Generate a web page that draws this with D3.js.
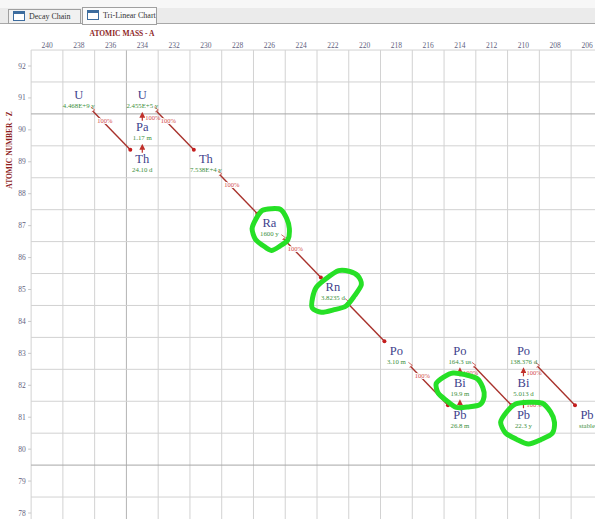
<!DOCTYPE html>
<html>
<head>
<meta charset="utf-8">
<script src="https://cdn.jsdelivr.net/npm/d3@7"></script>
<style>
  html, body { margin: 0; padding: 0; background: #fff; }
  svg { display: block; }
</style>
</head>
<body>
<svg id="chart" width="595" height="519"></svg>
<script>
// Tick labels
const massTicks = [240, 238, 236, 234, 232, 230, 228, 226, 224, 222, 220, 218, 216, 214, 212, 210, 208, 206];
const zTicks = [92, 91, 90, 89, 88, 87, 86, 85, 84, 83, 82, 81, 80, 79, 78];

// Nuclides of the U-238 chain, in decay order
const symbols = ['U', 'Th', 'Pa', 'U', 'Th', 'Ra', 'Rn', 'Po', 'Pb', 'Bi', 'Po', 'Pb', 'Bi', 'Po', 'Pb'];
const masses = [238, 234, 234, 234, 230, 226, 222, 218, 214, 214, 214, 210, 210, 210, 206];
const atomicNumbers = [92, 90, 91, 92, 90, 88, 86, 84, 82, 83, 84, 82, 83, 84, 82];
const halfLives = ['4.468E+9 y', '24.10 d', '1.17 m', '2.455E+5 y', '7.538E+4 y', '1600 y', '3.8235 d',
  '3.10 m', '26.8 m', '19.9 m', '164.3 us', '22.3 y', '5.013 d', '138.376 d', 'stable'];

// Each nuclide decays into the next one; branching ratio shown on some arrows
const branchLabels = ['100%', '', '100%', '100%', '100%', '100%', '', '100%', '', '100%', '', '100%', '100%', ''];

// Nuclides circled by hand in green
const circled = ['Ra-226', 'Rn-222', 'Bi-214', 'Pb-210'];

const width = 595, height = 519;
const svg = d3.select('#chart');

const x = d3.scaleLinear().domain([240, 206]).range([47, 587]);
const y = d3.scaleLinear().domain([92, 78]).range([66, 513]);
const cellW = x(238) - x(240);
const cellH = y(91) - y(92);
// the chart puts every nuclide one row below its Z label
const rowY = z => y(z - 1);

const serif = '"Liberation Serif", "Times New Roman", serif';

// ---- tab strip
svg.append('rect').attr('width', width).attr('height', 8).attr('fill', '#f7f7f7');
svg.append('rect').attr('y', 8).attr('width', width).attr('height', 15).attr('fill', '#ebebeb');
svg.append('line').attr('x1', 0).attr('x2', width).attr('y1', 23.5).attr('y2', 23.5).attr('stroke', '#a8a8a8');

const tabs = [{label: 'Decay Chain', x: 8, w: 72, active: false}, {label: 'Tri-Linear Chart', x: 82, w: 74, active: true}];
const tab = svg.selectAll('.tab').data(tabs).enter().append('g')
  .attr('transform', d => `translate(${d.x},${d.active ? 7 : 9})`);
tab.append('rect')
  .attr('x', 0.5).attr('y', 0.5)
  .attr('width', d => d.w).attr('height', d => d.active ? 17 : 14)
  .attr('fill', d => d.active ? '#fbfbfb' : '#f1f1f1')
  .attr('stroke', '#a0a0a0');
tab.append('rect').attr('x', 5.5).attr('y', d => d.active ? 3.5 : 2.5).attr('width', 11).attr('height', 9)
  .attr('fill', '#fff').attr('stroke', '#3d6c9e');
tab.append('rect').attr('x', 5.5).attr('y', d => d.active ? 3.5 : 2.5).attr('width', 11).attr('height', 2.5)
  .attr('fill', '#3d6c9e');
tab.append('text')
  .attr('x', 21).attr('y', d => d.active ? 11 : 10)
  .attr('font-family', serif).attr('font-size', 8).attr('fill', '#333')
  .text(d => d.label);

// ---- grid
const gridLeft = x(240) - cellW / 2;
const gridTop = y(92) - cellH / 2;
const grid = svg.append('g');

const vLines = massTicks.map(m => m + 1).concat([205]);
grid.selectAll('.v').data(vLines).enter().append('line')
  .attr('x1', d => x(d)).attr('x2', d => x(d))
  .attr('y1', gridTop).attr('y2', height)
  .attr('stroke', d => d === 235 ? '#b4b4b4' : '#d2d2d2')
  .attr('stroke-width', 1);

const hLines = zTicks.map(z => z + 0.5).concat([77.5]);
grid.selectAll('.h').data(hLines).enter().append('line')
  .attr('x1', gridLeft).attr('x2', width)
  .attr('y1', d => y(d)).attr('y2', d => y(d))
  .attr('stroke', d => (d === 90.5 || d === 79.5) ? '#a6a6a6' : '#d2d2d2')
  .attr('stroke-width', 1);

// small ticks on the left edge
grid.selectAll('.tk').data(zTicks).enter().append('line')
  .attr('x1', gridLeft - 3).attr('x2', gridLeft)
  .attr('y1', d => y(d)).attr('y2', d => y(d))
  .attr('stroke', '#c8c8c8');

// ---- axis labels
svg.append('text')
  .attr('x', 122).attr('y', 36)
  .attr('text-anchor', 'middle')
  .attr('font-family', serif).attr('font-weight', 'bold').attr('font-size', 7.5)
  .attr('fill', '#8e1f1f')
  .text('ATOMIC MASS - A');

svg.append('text')
  .attr('transform', 'translate(12,150) rotate(-90)')
  .attr('text-anchor', 'middle')
  .attr('font-family', serif).attr('font-weight', 'bold').attr('font-size', 7.5)
  .attr('fill', '#8e1f1f')
  .text('ATOMIC NUMBER - Z');

svg.selectAll('.mt').data(massTicks).enter().append('text')
  .attr('x', d => x(d)).attr('y', 48)
  .attr('text-anchor', 'middle')
  .attr('font-family', serif).attr('font-size', 7.5).attr('fill', '#5f5f80')
  .text(d => d);

svg.selectAll('.zt').data(zTicks).enter().append('text')
  .attr('x', 22).attr('y', d => y(d) + 2.5)
  .attr('text-anchor', 'middle')
  .attr('font-family', serif).attr('font-size', 7.5).attr('fill', '#5f5f80')
  .text(d => d);

// ---- nuclides
const nuclides = symbols.map((s, i) => ({
  symbol: s, mass: masses[i], z: atomicNumbers[i], halfLife: halfLives[i],
  key: s + '-' + masses[i],
  cx: x(masses[i]), cy: rowY(atomicNumbers[i])
}));

const decays = branchLabels.map((b, i) => ({
  from: nuclides[i], to: nuclides[i + 1], label: b,
  type: nuclides[i + 1].z > nuclides[i].z ? 'beta' : 'alpha'
}));

const arrowColor = '#a8322c';
const defs = svg.append('defs');
defs.append('marker')
  .attr('id', 'up').attr('viewBox', '0 0 6 6').attr('refX', 3).attr('refY', 3)
  .attr('markerWidth', 5).attr('markerHeight', 5).attr('orient', 'auto')
  .append('path').attr('d', 'M0,0 L6,3 L0,6 Z').attr('fill', '#c0302a');

const arrows = svg.append('g');

// alpha decays: diagonal lines down-right
const alphas = decays.filter(d => d.type === 'alpha');
arrows.selectAll('.a').data(alphas).enter().append('line')
  .attr('x1', d => d.from.cx + 14).attr('y1', d => d.from.cy + 13)
  .attr('x2', d => d.to.cx - 12).attr('y2', d => d.to.cy - 12)
  .attr('stroke', arrowColor).attr('stroke-width', 1.4);
arrows.selectAll('.as').data(alphas).enter().append('path')
  .attr('d', d => `M${d.from.cx + 12},${d.from.cy + 9} L${d.from.cx + 16},${d.from.cy + 12} L${d.from.cx + 13},${d.from.cy + 14}`)
  .attr('fill', 'none').attr('stroke', '#d0706a').attr('stroke-width', 1);
arrows.selectAll('.ad').data(alphas).enter().append('circle')
  .attr('cx', d => d.to.cx - 12).attr('cy', d => d.to.cy - 12).attr('r', 2)
  .attr('fill', '#c41e1e');
arrows.selectAll('.al').data(alphas.filter(d => d.label)).enter().append('text')
  .attr('x', d => d.from.cx + 26).attr('y', d => d.from.cy + 25)
  .attr('text-anchor', 'middle')
  .attr('font-family', serif).attr('font-size', 6.5).attr('fill', '#d24a4a')
  .attr('stroke', '#fff').attr('stroke-width', 2).attr('paint-order', 'stroke')
  .text(d => d.label);

// beta decays: short arrows pointing up
const betas = decays.filter(d => d.type === 'beta');
arrows.selectAll('.b').data(betas).enter().append('line')
  .attr('x1', d => d.from.cx).attr('y1', d => d.from.cy - 9)
  .attr('x2', d => d.from.cx).attr('y2', d => d.from.cy - 15)
  .attr('stroke', '#c0302a').attr('stroke-width', 1.2)
  .attr('marker-end', 'url(#up)');
arrows.selectAll('.bl').data(betas.filter(d => d.label)).enter().append('text')
  .attr('x', d => d.from.cx + 3).attr('y', d => d.from.cy - 10)
  .attr('font-family', serif).attr('font-size', 6.5).attr('fill', '#d24a4a')
  .text(d => d.label);

const labels = svg.append('g').selectAll('g').data(nuclides).enter().append('g')
  .attr('transform', d => `translate(${d.cx},${d.cy})`);
labels.append('text')
  .attr('y', 1.5).attr('text-anchor', 'middle')
  .attr('font-family', serif).attr('font-size', 12.5).attr('fill', '#3e3f8c')
  .text(d => d.symbol);
labels.append('text')
  .attr('y', 10.5).attr('text-anchor', 'middle')
  .attr('font-family', serif).attr('font-size', 6.8).attr('fill', '#3c8f3c')
  .text(d => d.halfLife);

// ---- hand drawn green circles
const blobStyle = {
  'Ra-226': {dx: 2, dy: 3, rx: 18, ry: 21, rot: 0},
  'Rn-222': {dx: 3, dy: 2, rx: 27, ry: 17, rot: -35},
  'Bi-214': {dx: 1, dy: 5, rx: 24, ry: 17, rot: 15},
  'Pb-210': {dx: 5, dy: 5, rx: 26, ry: 21, rot: 0}
};
const wobble = [1.0, 1.06, 0.96, 1.04, 0.93, 1.02, 1.07, 0.97, 1.0, 0.95, 1.05, 0.98];
const blobLine = d3.line().curve(d3.curveCardinalClosed.tension(0.2));

svg.append('g').selectAll('path')
  .data(nuclides.filter(d => circled.includes(d.key)))
  .enter().append('path')
  .attr('d', d => {
    const s = blobStyle[d.key];
    const a0 = s.rot * Math.PI / 180;
    const pts = wobble.map((w, i) => {
      const t = i / wobble.length * 2 * Math.PI;
      const px = Math.cos(t) * s.rx * w, py = Math.sin(t) * s.ry * w;
      return [d.cx + s.dx + px * Math.cos(a0) - py * Math.sin(a0),
              d.cy + s.dy + px * Math.sin(a0) + py * Math.cos(a0)];
    });
    return blobLine(pts);
  })
  .attr('fill', 'none')
  .attr('stroke', '#26e026')
  .attr('stroke-width', 5)
  .attr('stroke-linejoin', 'round');
</script>
</body>
</html>
